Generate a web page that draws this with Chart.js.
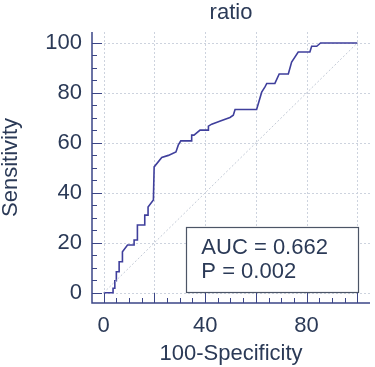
<!DOCTYPE html>
<html>
<head>
<meta charset="utf-8">
<script src="https://cdn.jsdelivr.net/npm/chart.js@4"></script>
<style>
  body { margin: 0; background: #fff; }
</style>
</head>
<body>
<canvas id="rocChart" width="375" height="367"></canvas>
<script>
// DATA
const fpr = [0, 3.7, 3.7, 4.4, 4.4, 5.0, 5.0, 6.1, 6.1, 7.4, 7.4, 9.4, 12.0, 12.0, 13.3, 13.3, 16.2, 16.2, 17.5, 17.5,
    19.6, 19.9, 22.9, 25.5, 28.5, 29.4, 30.4, 34.7, 34.7, 35.6, 38.0, 41.3, 41.3, 42.6, 46, 49.8, 51.1, 51.8, 60.3, 62.3,
    63.6, 64.3, 67.5, 69.2, 72.8, 74.1, 76.7, 81.3, 82.0, 84.0, 85.5, 100];
const tpr = [0, 0, 1.8, 1.8, 4.8, 4.8, 8.4, 8.4, 12.4, 12.4, 16.4, 19.1, 19.1, 21.1, 21.1, 27.1, 27.1, 31.1, 31.1, 34.3,
    37.1, 50.4, 54.2, 55, 56.4, 59.1, 60.8, 60.8, 63.1, 63.1, 65.1, 65.1, 66.7, 67.5, 68.8, 70.2, 71.1, 73.4, 73.4, 80.3,
    82.4, 83.8, 83.8, 87.6, 87.6, 92.4, 96.4, 96.4, 98.7, 98.7, 100, 100];
const refX = [0, 100];
const refY = [0, 100];
const xLabels = [0, 40, 80];
const boxLines = ['AUC = 0.662', 'P = 0.002'];
const chartTitle = 'ratio';

const textColor = '#2b3a57';
const axisColor = '#3b4586';
const fontFamily = "'Liberation Sans', Arial, sans-serif";

// helpers
function toPoints(xs, ys) {
    return xs.map((x, i) => ({ x: x, y: ys[i] }));
}

// PLUGIN: grid, axes with inner ticks, AUC box, title
const rocDecor = {
    id: 'rocDecor',
    beforeDatasetsDraw(chart) {
        const ctx = chart.ctx;
        const area = chart.chartArea;
        const xs = chart.scales.x;
        const ys = chart.scales.y;
        ctx.save();
        ctx.strokeStyle = '#cdd3de';
        ctx.lineWidth = 1;
        ctx.setLineDash([2, 2]);
        xs.ticks.forEach((t) => {
            const px = Math.round(xs.getPixelForValue(t.value)) + 0.5;
            ctx.beginPath();
            ctx.moveTo(px, area.top);
            ctx.lineTo(px, area.bottom);
            ctx.stroke();
        });
        ys.ticks.forEach((t) => {
            const py = Math.round(ys.getPixelForValue(t.value)) + 0.5;
            ctx.beginPath();
            ctx.moveTo(area.left, py);
            ctx.lineTo(area.right, py);
            ctx.stroke();
        });
        ctx.restore();
    },
    afterDatasetsDraw(chart) {
        const ctx = chart.ctx;
        const area = chart.chartArea;
        const xs = chart.scales.x;
        const ys = chart.scales.y;
        ctx.save();
        // axis lines
        ctx.strokeStyle = axisColor;
        ctx.lineWidth = 1.5;
        ctx.beginPath();
        ctx.moveTo(area.left, area.top);
        ctx.lineTo(area.left, area.bottom);
        ctx.lineTo(area.right, area.bottom);
        ctx.stroke();
        // inner ticks every 5, long ones every 20
        ctx.lineWidth = 1;
        for (let v = 0; v <= 100; v += 5) {
            const len = v % 20 == 0 ? 10 : 5;
            const py = Math.round(ys.getPixelForValue(v)) + 0.5;
            ctx.beginPath();
            ctx.moveTo(area.left, py);
            ctx.lineTo(area.left + len, py);
            ctx.stroke();
            const px = Math.round(xs.getPixelForValue(v)) + 0.5;
            ctx.beginPath();
            ctx.moveTo(px, area.bottom);
            ctx.lineTo(px, area.bottom - len);
            ctx.stroke();
        }
        // AUC box
        const bx1 = xs.getPixelForValue(32.6);
        const bx2 = xs.getPixelForValue(100.4);
        const by1 = ys.getPixelForValue(26.4);
        const by2 = ys.getPixelForValue(0.4);
        ctx.fillStyle = '#fff';
        ctx.fillRect(bx1, by1, bx2 - bx1, by2 - by1);
        ctx.strokeStyle = '#4c5566';
        ctx.lineWidth = 1.2;
        ctx.strokeRect(Math.round(bx1) + 0.5, Math.round(by1) + 0.5, Math.round(bx2 - bx1), Math.round(by2 - by1));
        ctx.fillStyle = textColor;
        ctx.font = '22px ' + fontFamily;
        ctx.textAlign = 'left';
        ctx.textBaseline = 'alphabetic';
        boxLines.forEach((line, i) => {
            ctx.fillText(line, bx1 + 15, by1 + 27 + i * 24);
        });
        // title
        ctx.textAlign = 'center';
        ctx.fillText(chartTitle, (area.left + area.right) / 2, 19);
        ctx.restore();
    }
};

const config = {
    type: 'scatter',
    data: {
        datasets: [
            {
                label: 'reference',
                data: toPoints(refX, refY),
                showLine: true,
                borderColor: '#c3cad6',
                borderWidth: 1,
                borderDash: [2, 2],
                pointRadius: 0
            },
            {
                label: 'ratio',
                data: toPoints(fpr, tpr),
                showLine: true,
                borderColor: '#3f3f9c',
                borderWidth: 1.6,
                pointRadius: 0,
                tension: 0
            }
        ]
    },
    options: {
        responsive: false,
        animation: false,
        layout: { padding: { top: 32, right: 5, left: 0, bottom: 0 } },
        plugins: {
            legend: { display: false },
            tooltip: { enabled: false }
        },
        scales: {
            x: {
                type: 'linear',
                min: -4.6,
                max: 105,
                grid: { display: false, drawTicks: false },
                border: { display: false },
                afterFit: (scale) => { scale.height = 64; },
                ticks: {
                    stepSize: 20,
                    includeBounds: false,
                    autoSkip: false,
                    maxRotation: 0,
                    padding: 10,
                    color: textColor,
                    font: { family: fontFamily, size: 22 },
                    callback: (v) => xLabels.includes(v) ? String(v) : ''
                },
                title: {
                    display: true,
                    text: '100-Specificity',
                    color: textColor,
                    padding: 0,
                    font: { family: fontFamily, size: 22 }
                }
            },
            y: {
                type: 'linear',
                min: -4.1,
                max: 104.4,
                grid: { display: false, drawTicks: false },
                border: { display: false },
                afterFit: (scale) => { scale.width = 92; },
                ticks: {
                    stepSize: 20,
                    includeBounds: false,
                    padding: 10,
                    color: textColor,
                    font: { family: fontFamily, size: 22 }
                },
                title: {
                    display: true,
                    text: 'Sensitivity',
                    color: textColor,
                    padding: 0,
                    font: { family: fontFamily, size: 22, lineHeight: 1 }
                }
            }
        }
    },
    plugins: [rocDecor]
};

const myChart = new Chart(document.getElementById('rocChart'), config);
</script>
</body>
</html>
